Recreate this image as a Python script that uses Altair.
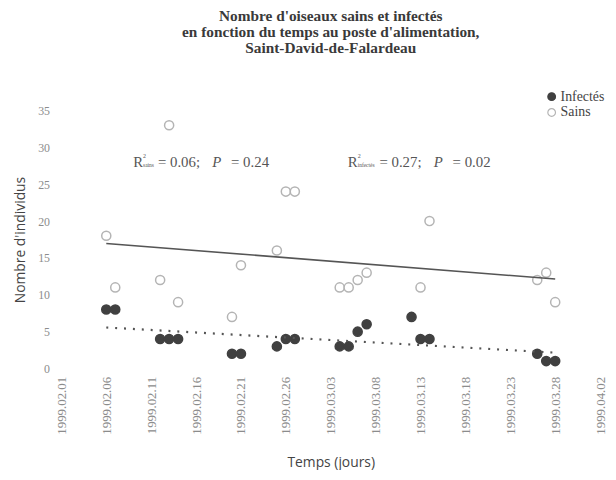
import altair as alt
import pandas as pd

# ---- data ----
dates_sains = ["1999-02-06", "1999-02-07", "1999-02-12", "1999-02-13", "1999-02-14",
               "1999-02-20", "1999-02-21", "1999-02-25", "1999-02-26", "1999-02-27",
               "1999-03-04", "1999-03-05", "1999-03-06", "1999-03-07", "1999-03-13",
               "1999-03-14", "1999-03-26", "1999-03-27", "1999-03-28"]
sains = [18, 11, 12, 33, 9, 7, 14, 16, 24, 24, 11, 11, 12, 13, 11, 20, 12, 13, 9]

dates_infectes = ["1999-02-06", "1999-02-07", "1999-02-12", "1999-02-13", "1999-02-14",
                  "1999-02-20", "1999-02-21", "1999-02-25", "1999-02-26", "1999-02-27",
                  "1999-03-04", "1999-03-05", "1999-03-06", "1999-03-07", "1999-03-12",
                  "1999-03-13", "1999-03-14", "1999-03-26", "1999-03-27", "1999-03-28"]
infectes = [8, 8, 4, 4, 4, 2, 2, 3, 4, 4, 3, 3, 5, 6, 7, 4, 4, 2, 1, 1]

tick_labels = ["1999.02.01", "1999.02.06", "1999.02.11", "1999.02.16", "1999.02.21",
               "1999.02.26", "1999.03.03", "1999.03.08", "1999.03.13", "1999.03.18",
               "1999.03.23", "1999.03.28", "1999.04.02"]
y_ticks = [0, 5, 10, 15, 20, 25, 30, 35]

series = ["Infectés", "Sains"]
title_lines = ["Nombre d'oiseaux sains et infectés",
               "en fonction du temps au poste d'alimentation,",
               "Saint-David-de-Falardeau"]
x_title = "Temps (jours)"
y_title = "Nombre d'individus"

# annotation texts: (R² subscript, R² value, P value)
annot_sains = ("sains", "= 0.06;", "= 0.24")
annot_inf = ("infectés", "= 0.27;", "= 0.02")

# ---- build table ----
origin = pd.Timestamp("1999-02-01")
df = pd.concat([
    pd.DataFrame({"serie": series[0],
                  "day": (pd.to_datetime(dates_infectes) - origin).days,
                  "value": infectes}),
    pd.DataFrame({"serie": series[1],
                  "day": (pd.to_datetime(dates_sains) - origin).days,
                  "value": sains}),
], ignore_index=True)
df["ord"] = df["serie"].map({"Infectés": 1, "Sains": 0})

SERIF = "Liberation Serif"
SANS = "Open Sans"

label_expr = "[" + ",".join(f"'{t}'" for t in tick_labels) + "][round(datum.value/5)]"

x_enc = alt.X("day:Q",
              scale=alt.Scale(domain=[0, 60], nice=False, zero=False),
              axis=alt.Axis(values=list(range(0, 61, 5)), labelExpr=label_expr,
                            labelAngle=270, labelFont=SERIF, labelFontSize=13,
                            labelColor="#8c8c8c", labelPadding=8,
                            labelOverlap=False, labelFlush=False,
                            domain=False, ticks=False, grid=False,
                            title=x_title, titleFont=SANS, titleFontSize=14,
                            titleFontWeight="normal", titleColor="#444444",
                            titlePadding=22))
y_enc = alt.Y("value:Q",
              scale=alt.Scale(domain=[0, 35], nice=False, zero=True),
              axis=alt.Axis(values=y_ticks, tickCount=8, labelFont=SERIF, labelFontSize=12,
                            labelColor="#8c8c8c", labelPadding=12,
                            labelOverlap=False, labelFlush=False,
                            domain=False, ticks=False, grid=False,
                            title=y_title, titleFont=SANS, titleFontSize=14,
                            titleFontWeight="normal", titleColor="#444444",
                            titlePadding=10))

base = alt.Chart(df)

color_scale_fill = alt.Scale(domain=series, range=["#404040", "#ffffff"])
color_scale_stroke = alt.Scale(domain=series, range=["#404040", "#b4b4b4"])
legend = alt.Legend(title=None, orient="none", legendX=489, legendY=-21,
                    labelFont=SERIF, labelFontSize=14, labelColor="#444444",
                    symbolType="circle", symbolSize=60, rowPadding=2,
                    symbolStrokeWidth=1.2, labelOffset=2)

points = base.mark_circle(size=85, opacity=1, strokeWidth=1.5).encode(
    x=x_enc, y=y_enc,
    fill=alt.Fill("serie:N", scale=color_scale_fill, legend=legend),
    stroke=alt.Stroke("serie:N", scale=color_scale_stroke, legend=legend),
    order=alt.Order("ord:Q"),
)

reg_sains = base.transform_filter(alt.datum.serie == "Sains").transform_regression(
    "day", "value").mark_line(color="#555555", strokeWidth=1.6).encode(
    x=x_enc, y=y_enc)
reg_inf = base.transform_filter(alt.datum.serie == "Infectés").transform_regression(
    "day", "value").mark_line(color="#555555", strokeWidth=2.2,
                              strokeDash=[2, 7]).encode(x=x_enc, y=y_enc)


def annotation(anchor_day, anchor_val, sub, r2, p, sub_w):
    pieces = [
        ("R", 0, 0, 15, "normal"),
        ("2", 10, -6, 6, "normal"),
        (sub, 10, 3, 5.5, "normal"),
        (r2, 13 + sub_w, 0, 15, "normal"),
        ("P", 68 + sub_w, 0, 15, "italic"),
        (p, 87 + sub_w, 0, 15, "normal"),
    ]
    layers = []
    adf = pd.DataFrame({"day": [anchor_day], "value": [anchor_val]})
    for txt, dx, dy, size, style in pieces:
        layers.append(alt.Chart(adf).mark_text(
            text=txt, align="left", baseline="middle", dx=dx, dy=dy,
            font=SERIF, fontSize=size, fontStyle=style, color="#555555"
        ).encode(x=x_enc, y=y_enc))
    return layers


ann = annotation(8.0, 28, annot_sains[0], annot_sains[1], annot_sains[2], 12) + \
      annotation(31.9, 28, annot_inf[0], annot_inf[1], annot_inf[2], 19)

chart = alt.layer(points, reg_sains, reg_inf, *ann).properties(
    width=545, height=261,
    autosize=alt.AutoSizeParams(type="none"),
    padding={"left": 54, "top": 101, "right": 8, "bottom": 100},
    background="white",
    title=alt.TitleParams(text=title_lines, font=SERIF, fontSize=15.5,
                          fontWeight="bold", color="#3a3a3a", anchor="middle",
                          lineHeight=16, offset=34),
).configure_view(stroke=None)

chart.save("out.html", embed_options={"renderer": "svg", "actions": False})
